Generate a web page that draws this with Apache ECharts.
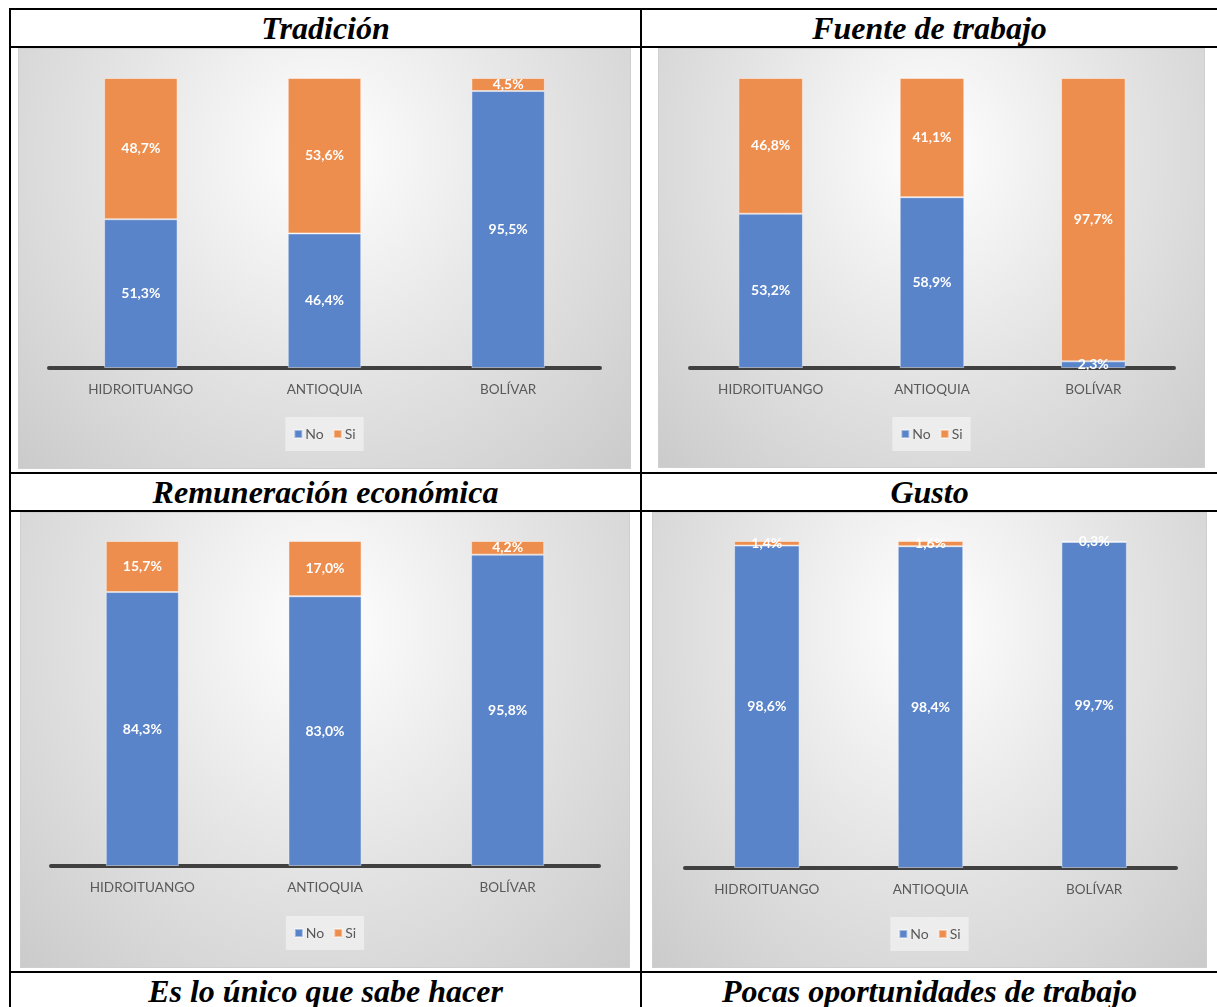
<!DOCTYPE html>
<html>
<head>
<meta charset="utf-8">
<script src="https://cdn.jsdelivr.net/npm/echarts@6/dist/echarts.min.js"></script>
<style>
  html, body { margin: 0; padding: 0; background: #fff; width: 1217px; height: 1007px; overflow: hidden; }
  .line { position: absolute; background: #000; }
  .titulo {
    position: absolute; text-align: center;
    font-family: "Liberation Serif", "DejaVu Serif", serif;
    font-weight: bold; font-style: italic; font-size: 32px; color: #000;
  }
  .panel {
    position: absolute; box-sizing: border-box; border: 1px solid #cfcfcf;
    background: radial-gradient(ellipse farthest-corner at 50% 25%, #ffffff 0%, #e4e4e4 50%, #cbcbcb 100%);
  }
</style>
</head>
<body>
<div class="line" style="left:9px;top:8px;width:1208px;height:2px"></div>
<div class="line" style="left:9px;top:46px;width:1208px;height:2px"></div>
<div class="line" style="left:9px;top:472px;width:1208px;height:2px"></div>
<div class="line" style="left:9px;top:510px;width:1208px;height:2px"></div>
<div class="line" style="left:9px;top:971px;width:1208px;height:2px"></div>
<div class="line" style="left:9px;top:8px;width:2px;height:999px"></div>
<div class="line" style="left:640px;top:8px;width:2px;height:999px"></div>

<div class="titulo" id="t0" style="left:11px;width:629px;top:10px;line-height:36px"></div>
<div class="titulo" id="t1" style="left:642px;width:575px;top:10px;line-height:36px"></div>
<div class="titulo" id="t2" style="left:11px;width:629px;top:474px;line-height:36px"></div>
<div class="titulo" id="t3" style="left:642px;width:575px;top:474px;line-height:36px"></div>
<div class="titulo" id="t4" style="left:11px;width:629px;top:973px;line-height:36px"></div>
<div class="titulo" id="t5" style="left:642px;width:575px;top:973px;line-height:36px"></div>

<div class="panel" id="c0" style="left:18px;top:48px;width:613px;height:421px"></div>
<div class="panel" id="c1" style="left:658px;top:48px;width:547px;height:420px"></div>
<div class="panel" id="c2" style="left:20px;top:512px;width:610px;height:456px"></div>
<div class="panel" id="c3" style="left:652px;top:512px;width:555px;height:456px"></div>

<script>
const titulos = ['Tradición', 'Fuente de trabajo', 'Remuneración económica', 'Gusto',
  'Es lo único que sabe hacer', 'Pocas oportunidades de trabajo']
const categorias = ['HIDROITUANGO', 'ANTIOQUIA', 'BOLÍVAR']
const tradicionNo = [51.3, 46.4, 95.5]
const tradicionSi = [48.7, 53.6, 4.5]
const fuenteNo = [53.2, 58.9, 2.3]
const fuenteSi = [46.8, 41.1, 97.7]
const remuneracionNo = [84.3, 83.0, 95.8]
const remuneracionSi = [15.7, 17.0, 4.2]
const gustoNo = [98.6, 98.4, 99.7]
const gustoSi = [1.4, 1.6, 0.3]

titulos.forEach((t, i) => { document.getElementById('t' + i).textContent = t })

const fuente = 'Lato, "Open Sans", sans-serif'

function pct (v) {
  return v.toFixed(1).replace('.', ',') + '%'
}

function serie (name, data, color) {
  return {
    name: name,
    type: 'bar',
    stack: 'total',
    barWidth: '40%',
    data: data,
    itemStyle: { color: color, borderColor: 'rgba(255,255,255,0.45)', borderWidth: 1 },
    label: {
      show: true,
      position: 'inside',
      color: '#fff',
      fontFamily: fuente,
      fontWeight: 'bold',
      fontSize: 14,
      formatter: p => pct(p.value)
    }
  }
}

function grafico (id, no, si, grid, legendTop) {
  const chart = echarts.init(document.getElementById(id))
  chart.setOption({
    animation: false,
    backgroundColor: 'transparent',
    grid: grid,
    legend: {
      data: ['No', 'Si'],
      top: legendTop,
      left: 'center',
      itemWidth: 8,
      itemHeight: 8,
      itemGap: 9,
      icon: 'rect',
      padding: [10, 8],
      backgroundColor: 'rgba(242,242,242,0.75)',
      textStyle: { color: '#595959', fontFamily: fuente, fontSize: 14, padding: [0, 0, 0, -2] }
    },
    xAxis: {
      type: 'category',
      data: categorias,
      axisLine: { lineStyle: { color: '#404040', width: 4 } },
      axisTick: { show: false },
      axisLabel: { color: '#595959', fontFamily: fuente, fontSize: 13.5, margin: 15 }
    },
    yAxis: { type: 'value', min: 0, max: 100, show: false, splitLine: { show: false } },
    series: [serie('No', no, '#5a84c9'), serie('Si', si, '#ee8e4e')]
  })
  return chart
}

grafico('c0', tradicionNo, tradicionSi, { left: 30, right: 30, top: 29, bottom: 100 }, 368)
grafico('c1', fuenteNo, fuenteSi, { left: 31, right: 30, top: 29, bottom: 99 }, 368)
grafico('c2', remuneracionNo, remuneracionSi, { left: 30, right: 30, top: 28, bottom: 101 }, 403)
grafico('c3', gustoNo, gustoSi, { left: 32, right: 30, top: 28, bottom: 99 }, 404)
</script>
</body>
</html>
